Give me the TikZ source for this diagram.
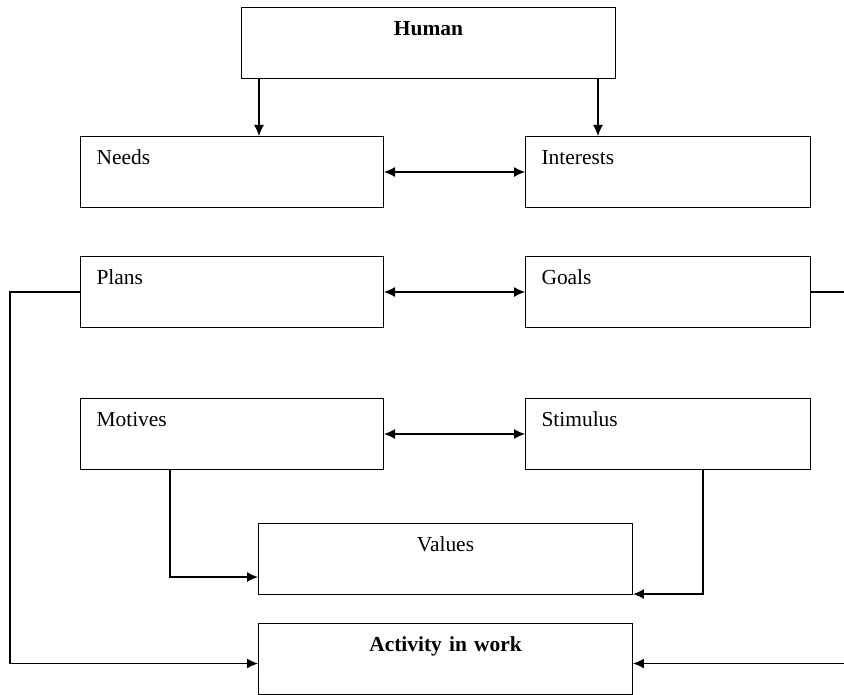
\documentclass[tikz,border=0pt]{standalone}
\usepackage{fontspec}
\setmainfont{Liberation Serif}
\usetikzlibrary{calc}
\usetikzlibrary{arrows.meta}

\tikzset{
  box/.style={ draw, line width=0.6pt
             , anchor=north west
             , inner xsep=0.32cm, inner ysep=0pt
             , text height=0.56cm, text depth=0.86cm
             , font=\fontsize{12.2}{14}\selectfont
             },
  lbox/.style={box, text width=#1, align=left},
  cbox/.style={box, text width=6.84cm, align=center},
  link/.style={line width=0.7pt, >={Latex[length=2.2mm,width=2mm]}}
}

\begin{document}
\begin{tikzpicture}[x=0.02cm, y=-0.02cm]

  \useasboundingbox (0,0) rectangle (844,695);

  \node [cbox] (human) at (241,7) {\textbf{Human}};

  \node [lbox=5.42cm] (needs)     at (80,136)  {Needs};
  \node [lbox=5.06cm] (interests) at (525,136) {Interests};

  \node [lbox=5.42cm] (plans) at (80,256)  {Plans};
  \node [lbox=5.06cm] (goals) at (525,256) {Goals};

  \node [lbox=5.42cm] (motives)  at (80,398)  {Motives};
  \node [lbox=5.06cm] (stimulus) at (525,398) {Stimulus};

  \node [cbox] (values)   at (258,523) {Values};
  \node [cbox] (activity) at (258,623) {\textbf{Activity in work}};

  \coordinate (leftrail)  at (10,0);
  \coordinate (rightrail) at (844,0);

  \draw [link,->] ([xshift=0.36cm]human.south west)
    -- ([xshift=0.36cm]human.south west |- needs.north);
  \draw [link,->] ([xshift=-0.36cm]human.south east)
    -- ([xshift=-0.36cm]human.south east |- interests.north);

  \draw [link,<->] (needs.east) -- (interests.west);
  \draw [link,<->] (plans.east) -- (goals.west);
  \draw [link,<->] (motives.east) -- (stimulus.west);

  \draw [link,->] ([xshift=1.8cm]motives.south west)
    |- ([yshift=0.36cm]values.south west);
  \draw [link,->] ([xshift=3.56cm]stimulus.south west)
    |- ([yshift=0.02cm]values.south east);

  \draw [link,->] (plans.west) -- (plans.west -| leftrail)
    |- ([yshift=-0.09cm]activity.west);
  \draw [link] (goals.east) -- (goals.east -| rightrail);
  \draw [link,->] ([yshift=-0.09cm]activity.east -| rightrail)
    -- ([yshift=-0.09cm]activity.east);

\end{tikzpicture}
\end{document}
